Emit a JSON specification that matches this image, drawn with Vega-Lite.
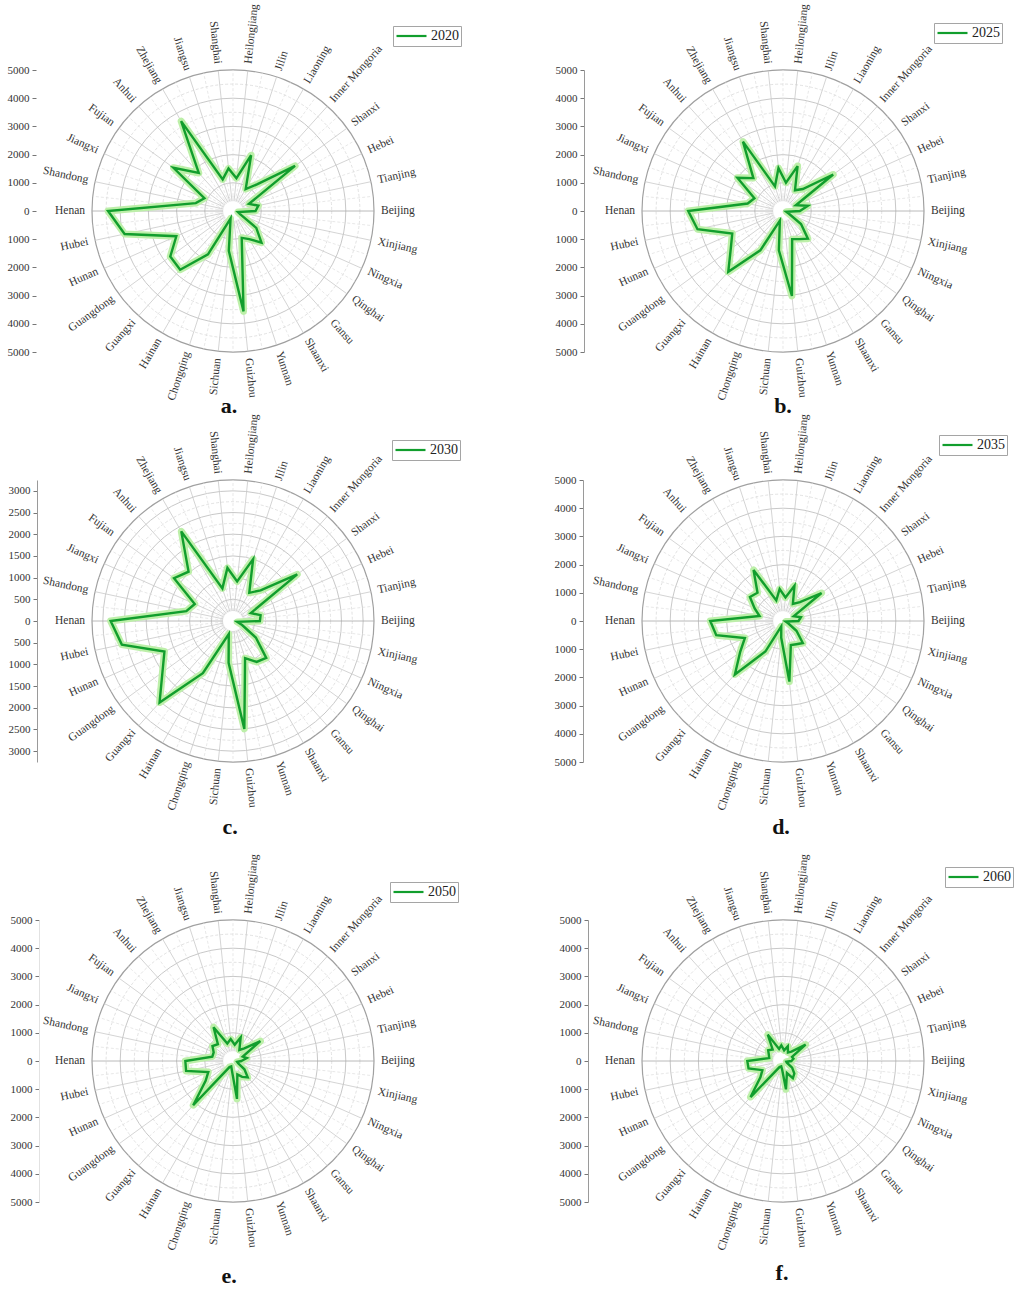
{
"$schema": "https://vega.github.io/schema/vega-lite/v6.json",
"background": "white",
"padding": {"left": 7, "top": 3, "right": 0, "bottom": 0},
"autosize": {"type": "pad"},
"config": {"view": {"stroke": null}, "font": "Liberation Serif"},
"datasets": {
"prov": [{"province":"Beijing"},{"province":"Tianjing"},{"province":"Hebei"},{"province":"Shanxi"},{"province":"Inner Mongoria"},{"province":"Liaoning"},{"province":"Jilin"},{"province":"Heilongjiang"},{"province":"Shanghai"},{"province":"Jiangsu"},{"province":"Zhejiang"},{"province":"Anhui"},{"province":"Fujian"},{"province":"Jiangxi"},{"province":"Shandong"},{"province":"Henan"},{"province":"Hubei"},{"province":"Hunan"},{"province":"Guangdong"},{"province":"Guangxi"},{"province":"Hainan"},{"province":"Chongqing"},{"province":"Sichuan"},{"province":"Guizhou"},{"province":"Yunnan"},{"province":"Shaanxi"},{"province":"Gansu"},{"province":"Qinghai"},{"province":"Ningxia"},{"province":"Xinjiang"}],
"rings5000": [{"r":500,"k":"minor"},{"r":1000,"k":"major"},{"r":1500,"k":"minor"},{"r":2000,"k":"major"},{"r":2500,"k":"minor"},{"r":3000,"k":"major"},{"r":3500,"k":"minor"},{"r":4000,"k":"major"},{"r":4500,"k":"minor"},{"r":5000,"k":"outer"}],
"rings3250": [{"r":250,"k":"minor"},{"r":500,"k":"major"},{"r":750,"k":"minor"},{"r":1000,"k":"major"},{"r":1250,"k":"minor"},{"r":1500,"k":"major"},{"r":1750,"k":"minor"},{"r":2000,"k":"major"},{"r":2250,"k":"minor"},{"r":2500,"k":"major"},{"r":2750,"k":"minor"},{"r":3000,"k":"major"},{"r":3250,"k":"outer"}],
"y2020": [{"province":"Beijing","value":800},{"province":"Tianjing","value":920},{"province":"Hebei","value":620},{"province":"Shanxi","value":2720},{"province":"Inner Mongoria","value":1270},{"province":"Liaoning","value":900},{"province":"Jilin","value":2080},{"province":"Heilongjiang","value":1170},{"province":"Shanghai","value":1520},{"province":"Jiangsu","value":1180},{"province":"Zhejiang","value":3680},{"province":"Anhui","value":1815},{"province":"Fujian","value":2610},{"province":"Jiangxi","value":1110},{"province":"Shandong","value":1350},{"province":"Henan","value":4430},{"province":"Hubei","value":3930},{"province":"Hunan","value":2200},{"province":"Guangdong","value":2750},{"province":"Guangxi","value":2800},{"province":"Hainan","value":1775},{"province":"Chongqing","value":280},{"province":"Sichuan","value":1420},{"province":"Guizhou","value":3580},{"province":"Yunnan","value":1000},{"province":"Shaanxi","value":1150},{"province":"Gansu","value":1510},{"province":"Qinghai","value":1020},{"province":"Ningxia","value":275},{"province":"Xinjiang","value":180}],
"y2025": [{"province":"Beijing","value":600},{"province":"Tianjing","value":900},{"province":"Hebei","value":500},{"province":"Shanxi","value":2200},{"province":"Inner Mongoria","value":1050},{"province":"Liaoning","value":850},{"province":"Jilin","value":1675},{"province":"Heilongjiang","value":1010},{"province":"Shanghai","value":1530},{"province":"Jiangsu","value":920},{"province":"Zhejiang","value":2840},{"province":"Anhui","value":1570},{"province":"Fujian","value":2000},{"province":"Jiangxi","value":1110},{"province":"Shandong","value":1280},{"province":"Henan","value":3360},{"province":"Hubei","value":3100},{"province":"Hunan","value":1970},{"province":"Guangdong","value":2290},{"province":"Guangxi","value":2900},{"province":"Hainan","value":1610},{"province":"Chongqing","value":360},{"province":"Sichuan","value":1400},{"province":"Guizhou","value":3030},{"province":"Yunnan","value":1050},{"province":"Shaanxi","value":1150},{"province":"Gansu","value":1320},{"province":"Qinghai","value":790},{"province":"Ningxia","value":220},{"province":"Xinjiang","value":120}],
"y2030": [{"province":"Beijing","value":620},{"province":"Tianjing","value":650},{"province":"Hebei","value":450},{"province":"Shanxi","value":1830},{"province":"Inner Mongoria","value":950},{"province":"Liaoning","value":750},{"province":"Jilin","value":1500},{"province":"Heilongjiang","value":915},{"province":"Shanghai","value":1230},{"province":"Jiangsu","value":790},{"province":"Zhejiang","value":2385},{"province":"Anhui","value":1530},{"province":"Fujian","value":1680},{"province":"Jiangxi","value":965},{"province":"Shandong","value":1100},{"province":"Henan","value":2820},{"province":"Hubei","value":2620},{"province":"Hunan","value":1730},{"province":"Guangdong","value":2010},{"province":"Guangxi","value":2530},{"province":"Hainan","value":1390},{"province":"Chongqing","value":315},{"province":"Sichuan","value":970},{"province":"Guizhou","value":2500},{"province":"Yunnan","value":900},{"province":"Shaanxi","value":1090},{"province":"Gansu","value":1145},{"province":"Qinghai","value":650},{"province":"Ningxia","value":230},{"province":"Xinjiang","value":100}],
"y2035": [{"province":"Beijing","value":550},{"province":"Tianjing","value":650},{"province":"Hebei","value":420},{"province":"Shanxi","value":1690},{"province":"Inner Mongoria","value":900},{"province":"Liaoning","value":700},{"province":"Jilin","value":1315},{"province":"Heilongjiang","value":840},{"province":"Shanghai","value":1140},{"province":"Jiangsu","value":770},{"province":"Zhejiang","value":2090},{"province":"Anhui","value":1350},{"province":"Fujian","value":1450},{"province":"Jiangxi","value":1100},{"province":"Shandong","value":850},{"province":"Henan","value":2580},{"province":"Hubei","value":2420},{"province":"Hunan","value":1480},{"province":"Guangdong","value":1880},{"province":"Guangxi","value":2550},{"province":"Hainan","value":1250},{"province":"Chongqing","value":200},{"province":"Sichuan","value":600},{"province":"Guizhou","value":2160},{"province":"Yunnan","value":900},{"province":"Shaanxi","value":950},{"province":"Gansu","value":1050},{"province":"Qinghai","value":590},{"province":"Ningxia","value":200},{"province":"Xinjiang","value":100}],
"y2050": [{"province":"Beijing","value":300},{"province":"Tianjing","value":500},{"province":"Hebei","value":380},{"province":"Shanxi","value":1200},{"province":"Inner Mongoria","value":600},{"province":"Liaoning","value":450},{"province":"Jilin","value":880},{"province":"Heilongjiang","value":580},{"province":"Shanghai","value":780},{"province":"Jiangsu","value":650},{"province":"Zhejiang","value":1380},{"province":"Anhui","value":800},{"province":"Fujian","value":900},{"province":"Jiangxi","value":750},{"province":"Shandong","value":750},{"province":"Henan","value":1690},{"province":"Hubei","value":1700},{"province":"Hunan","value":960},{"province":"Guangdong","value":1200},{"province":"Guangxi","value":2110},{"province":"Hainan","value":250},{"province":"Chongqing","value":200},{"province":"Sichuan","value":350},{"province":"Guizhou","value":1350},{"province":"Yunnan","value":500},{"province":"Shaanxi","value":650},{"province":"Gansu","value":780},{"province":"Qinghai","value":500},{"province":"Ningxia","value":200},{"province":"Xinjiang","value":150}],
"y2060": [{"province":"Beijing","value":300},{"province":"Tianjing","value":380},{"province":"Hebei","value":350},{"province":"Shanxi","value":990},{"province":"Inner Mongoria","value":450},{"province":"Liaoning","value":350},{"province":"Jilin","value":550},{"province":"Heilongjiang","value":380},{"province":"Shanghai","value":560},{"province":"Jiangsu","value":450},{"province":"Zhejiang","value":1080},{"province":"Anhui","value":550},{"province":"Fujian","value":650},{"province":"Jiangxi","value":550},{"province":"Shandong","value":500},{"province":"Henan","value":1265},{"province":"Hubei","value":1250},{"province":"Hunan","value":800},{"province":"Guangdong","value":990},{"province":"Guangxi","value":1720},{"province":"Hainan","value":250},{"province":"Chongqing","value":200},{"province":"Sichuan","value":300},{"province":"Guizhou","value":1010},{"province":"Yunnan","value":450},{"province":"Shaanxi","value":700},{"province":"Gansu","value":600},{"province":"Qinghai","value":400},{"province":"Ningxia","value":150},{"province":"Xinjiang","value":120}]
},
"vconcat": [
{"vconcat": [
{"hconcat": [
{"width": 282, "height": 282,
 "title": {"text": "a.", "orient": "bottom", "anchor": "middle", "frame": "group", "offset": -6, "dx": -4, "fontSize": 22, "fontWeight": "bold", "font": "Liberation Serif", "color": "#111"},
 "encoding": {
  "x": {"field": "x", "type": "quantitative", "scale": {"domain": [-5000, 5000], "nice": false, "zero": false}, "axis": null},
  "y": {"field": "y", "type": "quantitative", "scale": {"domain": [-5000, 5000], "nice": false, "zero": false}, "axis": {"title": null, "values": [-5000,-4000,-3000,-2000,-1000,0,1000,2000,3000,4000,5000], "labelExpr": "abs(datum.value)", "offset": 56, "grid": false, "domain": false, "tickSize": 4, "tickColor": "#777", "labelFontSize": 11, "labelColor": "#333", "labelFont": "Liberation Serif", "labelPadding": 3, "labelFlush": false, "labelOverlap": false}}
 },
 "layer": [
  {"data": {"name": "rings5000"}, "transform": [{"filter": "datum.k == 'minor'"}, {"calculate": "0", "as": "x"}, {"calculate": "0", "as": "y"}], "mark": {"type": "point", "shape": "circle", "filled": false, "opacity": 1, "stroke": "#d6d6d6", "strokeWidth": 0.7, "strokeDash": [3,2]}, "encoding": {"size": {"field": "r", "type": "quantitative", "scale": {"type": "pow", "exponent": 2, "domain": [0,5000], "range": [0,79524], "zero": true}, "legend": null}}},
  {"data": {"name": "rings5000"}, "transform": [{"filter": "datum.k == 'major'"}, {"calculate": "0", "as": "x"}, {"calculate": "0", "as": "y"}], "mark": {"type": "point", "shape": "circle", "filled": false, "opacity": 1, "stroke": "#c2c2c2", "strokeWidth": 0.9}, "encoding": {"size": {"field": "r", "type": "quantitative", "scale": {"type": "pow", "exponent": 2, "domain": [0,5000], "range": [0,79524], "zero": true}, "legend": null}}},
  {"data": {"name": "rings5000"}, "transform": [{"filter": "datum.k == 'outer'"}, {"calculate": "0", "as": "x"}, {"calculate": "0", "as": "y"}], "mark": {"type": "point", "shape": "circle", "filled": false, "opacity": 1, "stroke": "#a0a0a0", "strokeWidth": 1.2}, "encoding": {"size": {"field": "r", "type": "quantitative", "scale": {"type": "pow", "exponent": 2, "domain": [0,5000], "range": [0,79524], "zero": true}, "legend": null}}},
  {"data": {"name": "prov"}, "transform": [{"window": [{"op": "row_number", "as": "idx"}]}, {"calculate": "(datum.idx-0.5)*PI/15", "as": "a"}, {"calculate": "350*cos(datum.a)", "as": "x"}, {"calculate": "350*sin(datum.a)", "as": "y"}, {"calculate": "5000*cos(datum.a)", "as": "x2f"}, {"calculate": "5000*sin(datum.a)", "as": "y2f"}], "mark": {"type": "rule", "stroke": "#dedede", "strokeWidth": 0.7, "strokeDash": [3,2]}, "encoding": {"x2": {"field": "x2f"}, "y2": {"field": "y2f"}}},
  {"data": {"name": "prov"}, "transform": [{"window": [{"op": "row_number", "as": "idx"}]}, {"calculate": "(datum.idx-1)*PI/15", "as": "a"}, {"calculate": "350*cos(datum.a)", "as": "x"}, {"calculate": "350*sin(datum.a)", "as": "y"}, {"calculate": "5000*cos(datum.a)", "as": "x2f"}, {"calculate": "5000*sin(datum.a)", "as": "y2f"}, {"calculate": "abs(sin(datum.a)) < 0.01 ? 'axis' : 'spoke'", "as": "kind"}], "mark": {"type": "rule", "strokeWidth": 0.8}, "encoding": {"x2": {"field": "x2f"}, "y2": {"field": "y2f"}, "stroke": {"field": "kind", "type": "nominal", "scale": {"domain": ["axis", "spoke"], "range": ["#a8a8a8", "#c9c9c9"]}, "legend": null}}},
  {"data": {"name": "y2020"}, "transform": [{"window": [{"op": "row_number", "as": "idx"}]}, {"calculate": "(datum.idx-1)*PI/15", "as": "a"}, {"calculate": "datum.value*cos(datum.a)", "as": "x"}, {"calculate": "datum.value*sin(datum.a)", "as": "y"}], "mark": {"type": "line", "interpolate": "linear-closed", "stroke": "#bdefa9", "strokeWidth": 7, "strokeJoin": "round"}, "encoding": {"order": {"field": "idx", "type": "quantitative"}}},
  {"data": {"name": "y2020"}, "transform": [{"window": [{"op": "row_number", "as": "idx"}]}, {"calculate": "(datum.idx-1)*PI/15", "as": "a"}, {"calculate": "datum.value*cos(datum.a)", "as": "x"}, {"calculate": "datum.value*sin(datum.a)", "as": "y"}], "mark": {"type": "line", "interpolate": "linear-closed", "strokeWidth": 2.4}, "encoding": {"order": {"field": "idx", "type": "quantitative"}, "color": {"datum": "2020", "scale": {"range": ["#119e2d"]}, "legend": {"title": null, "orient": "none", "legendX": 301, "legendY": -44, "symbolType": "stroke", "symbolSize": 900, "symbolStrokeWidth": 2.2, "clipHeight": 16, "strokeColor": "#a5a5a5", "fillColor": "#ffffff", "padding": 2, "labelFontSize": 14, "labelFont": "Liberation Serif", "labelColor": "#222", "labelOffset": 3}}}},
  {"data": {"name": "prov"}, "transform": [{"window": [{"op": "row_number", "as": "idx"}]}, {"calculate": "(datum.idx-1)*12", "as": "deg"}, {"calculate": "datum.deg*PI/180", "as": "a"}, {"filter": "cos(datum.a) > 0"}, {"calculate": "5000*cos(datum.a)", "as": "x"}, {"calculate": "5000*sin(datum.a)", "as": "y"}, {"calculate": "-datum.deg", "as": "ang"}], "mark": {"type": "text", "align": "left", "baseline": "middle", "dx": 7, "fontSize": 11.5, "font": "Liberation Serif", "color": "#333"}, "encoding": {"text": {"field": "province"}, "angle": {"field": "ang", "type": "quantitative", "scale": null}}},
  {"data": {"name": "prov"}, "transform": [{"window": [{"op": "row_number", "as": "idx"}]}, {"calculate": "(datum.idx-1)*12", "as": "deg"}, {"calculate": "datum.deg*PI/180", "as": "a"}, {"filter": "cos(datum.a) < 0"}, {"calculate": "5000*cos(datum.a)", "as": "x"}, {"calculate": "5000*sin(datum.a)", "as": "y"}, {"calculate": "180-datum.deg", "as": "ang"}], "mark": {"type": "text", "align": "right", "baseline": "middle", "dx": -7, "fontSize": 11.5, "font": "Liberation Serif", "color": "#333"}, "encoding": {"text": {"field": "province"}, "angle": {"field": "ang", "type": "quantitative", "scale": null}}}
 ]
},
{"width": 282, "height": 282,
 "title": {"text": "b.", "orient": "bottom", "anchor": "middle", "frame": "group", "offset": -6, "dx": 0, "fontSize": 22, "fontWeight": "bold", "font": "Liberation Serif", "color": "#111"},
 "encoding": {
  "x": {"field": "x", "type": "quantitative", "scale": {"domain": [-5000, 5000], "nice": false, "zero": false}, "axis": null},
  "y": {"field": "y", "type": "quantitative", "scale": {"domain": [-5000, 5000], "nice": false, "zero": false}, "axis": {"title": null, "values": [-5000,-4000,-3000,-2000,-1000,0,1000,2000,3000,4000,5000], "labelExpr": "abs(datum.value)", "offset": 58, "grid": false, "domain": true, "domainColor": "#9a9a9a", "tickSize": 4, "tickColor": "#777", "labelFontSize": 11, "labelColor": "#333", "labelFont": "Liberation Serif", "labelPadding": 3, "labelFlush": false, "labelOverlap": false}}
 },
 "layer": [
  {"data": {"name": "rings5000"}, "transform": [{"filter": "datum.k == 'minor'"}, {"calculate": "0", "as": "x"}, {"calculate": "0", "as": "y"}], "mark": {"type": "point", "shape": "circle", "filled": false, "opacity": 1, "stroke": "#d6d6d6", "strokeWidth": 0.7, "strokeDash": [3,2]}, "encoding": {"size": {"field": "r", "type": "quantitative", "scale": {"type": "pow", "exponent": 2, "domain": [0,5000], "range": [0,79524], "zero": true}, "legend": null}}},
  {"data": {"name": "rings5000"}, "transform": [{"filter": "datum.k == 'major'"}, {"calculate": "0", "as": "x"}, {"calculate": "0", "as": "y"}], "mark": {"type": "point", "shape": "circle", "filled": false, "opacity": 1, "stroke": "#c2c2c2", "strokeWidth": 0.9}, "encoding": {"size": {"field": "r", "type": "quantitative", "scale": {"type": "pow", "exponent": 2, "domain": [0,5000], "range": [0,79524], "zero": true}, "legend": null}}},
  {"data": {"name": "rings5000"}, "transform": [{"filter": "datum.k == 'outer'"}, {"calculate": "0", "as": "x"}, {"calculate": "0", "as": "y"}], "mark": {"type": "point", "shape": "circle", "filled": false, "opacity": 1, "stroke": "#a0a0a0", "strokeWidth": 1.2}, "encoding": {"size": {"field": "r", "type": "quantitative", "scale": {"type": "pow", "exponent": 2, "domain": [0,5000], "range": [0,79524], "zero": true}, "legend": null}}},
  {"data": {"name": "prov"}, "transform": [{"window": [{"op": "row_number", "as": "idx"}]}, {"calculate": "(datum.idx-0.5)*PI/15", "as": "a"}, {"calculate": "350*cos(datum.a)", "as": "x"}, {"calculate": "350*sin(datum.a)", "as": "y"}, {"calculate": "5000*cos(datum.a)", "as": "x2f"}, {"calculate": "5000*sin(datum.a)", "as": "y2f"}], "mark": {"type": "rule", "stroke": "#dedede", "strokeWidth": 0.7, "strokeDash": [3,2]}, "encoding": {"x2": {"field": "x2f"}, "y2": {"field": "y2f"}}},
  {"data": {"name": "prov"}, "transform": [{"window": [{"op": "row_number", "as": "idx"}]}, {"calculate": "(datum.idx-1)*PI/15", "as": "a"}, {"calculate": "350*cos(datum.a)", "as": "x"}, {"calculate": "350*sin(datum.a)", "as": "y"}, {"calculate": "5000*cos(datum.a)", "as": "x2f"}, {"calculate": "5000*sin(datum.a)", "as": "y2f"}, {"calculate": "abs(sin(datum.a)) < 0.01 ? 'axis' : 'spoke'", "as": "kind"}], "mark": {"type": "rule", "strokeWidth": 0.8}, "encoding": {"x2": {"field": "x2f"}, "y2": {"field": "y2f"}, "stroke": {"field": "kind", "type": "nominal", "scale": {"domain": ["axis", "spoke"], "range": ["#a8a8a8", "#c9c9c9"]}, "legend": null}}},
  {"data": {"name": "y2025"}, "transform": [{"window": [{"op": "row_number", "as": "idx"}]}, {"calculate": "(datum.idx-1)*PI/15", "as": "a"}, {"calculate": "datum.value*cos(datum.a)", "as": "x"}, {"calculate": "datum.value*sin(datum.a)", "as": "y"}], "mark": {"type": "line", "interpolate": "linear-closed", "stroke": "#bdefa9", "strokeWidth": 7, "strokeJoin": "round"}, "encoding": {"order": {"field": "idx", "type": "quantitative"}}},
  {"data": {"name": "y2025"}, "transform": [{"window": [{"op": "row_number", "as": "idx"}]}, {"calculate": "(datum.idx-1)*PI/15", "as": "a"}, {"calculate": "datum.value*cos(datum.a)", "as": "x"}, {"calculate": "datum.value*sin(datum.a)", "as": "y"}], "mark": {"type": "line", "interpolate": "linear-closed", "strokeWidth": 2.4}, "encoding": {"order": {"field": "idx", "type": "quantitative"}, "color": {"datum": "2025", "scale": {"range": ["#119e2d"]}, "legend": {"title": null, "orient": "none", "legendX": 292, "legendY": -47, "symbolType": "stroke", "symbolSize": 900, "symbolStrokeWidth": 2.2, "clipHeight": 16, "strokeColor": "#a5a5a5", "fillColor": "#ffffff", "padding": 2, "labelFontSize": 14, "labelFont": "Liberation Serif", "labelColor": "#222", "labelOffset": 3}}}},
  {"data": {"name": "prov"}, "transform": [{"window": [{"op": "row_number", "as": "idx"}]}, {"calculate": "(datum.idx-1)*12", "as": "deg"}, {"calculate": "datum.deg*PI/180", "as": "a"}, {"filter": "cos(datum.a) > 0"}, {"calculate": "5000*cos(datum.a)", "as": "x"}, {"calculate": "5000*sin(datum.a)", "as": "y"}, {"calculate": "-datum.deg", "as": "ang"}], "mark": {"type": "text", "align": "left", "baseline": "middle", "dx": 7, "fontSize": 11.5, "font": "Liberation Serif", "color": "#333"}, "encoding": {"text": {"field": "province"}, "angle": {"field": "ang", "type": "quantitative", "scale": null}}},
  {"data": {"name": "prov"}, "transform": [{"window": [{"op": "row_number", "as": "idx"}]}, {"calculate": "(datum.idx-1)*12", "as": "deg"}, {"calculate": "datum.deg*PI/180", "as": "a"}, {"filter": "cos(datum.a) < 0"}, {"calculate": "5000*cos(datum.a)", "as": "x"}, {"calculate": "5000*sin(datum.a)", "as": "y"}, {"calculate": "180-datum.deg", "as": "ang"}], "mark": {"type": "text", "align": "right", "baseline": "middle", "dx": -7, "fontSize": 11.5, "font": "Liberation Serif", "color": "#333"}, "encoding": {"text": {"field": "province"}, "angle": {"field": "ang", "type": "quantitative", "scale": null}}}
 ]
}
], "spacing": 268, "bounds": "flush", "resolve": {"scale": {"x": "independent", "y": "independent", "color": "independent", "size": "independent", "stroke": "independent"}}},
{"hconcat": [
{"width": 282, "height": 282,
 "title": {"text": "c.", "orient": "bottom", "anchor": "middle", "frame": "group", "offset": 5, "dx": -3, "fontSize": 22, "fontWeight": "bold", "font": "Liberation Serif", "color": "#111"},
 "encoding": {
  "x": {"field": "x", "type": "quantitative", "scale": {"domain": [-3250, 3250], "nice": false, "zero": false}, "axis": null},
  "y": {"field": "y", "type": "quantitative", "scale": {"domain": [-3250, 3250], "nice": false, "zero": false}, "axis": {"title": null, "values": [-3000,-2500,-2000,-1500,-1000,-500,0,500,1000,1500,2000,2500,3000], "labelExpr": "abs(datum.value)", "offset": 55, "grid": false, "domain": true, "domainColor": "#9a9a9a", "tickSize": 4, "tickColor": "#777", "labelFontSize": 11, "labelColor": "#333", "labelFont": "Liberation Serif", "labelPadding": 3, "labelFlush": false, "labelOverlap": false}}
 },
 "layer": [
  {"data": {"name": "rings3250"}, "transform": [{"filter": "datum.k == 'minor'"}, {"calculate": "0", "as": "x"}, {"calculate": "0", "as": "y"}], "mark": {"type": "point", "shape": "circle", "filled": false, "opacity": 1, "stroke": "#d6d6d6", "strokeWidth": 0.7, "strokeDash": [3,2]}, "encoding": {"size": {"field": "r", "type": "quantitative", "scale": {"type": "pow", "exponent": 2, "domain": [0,3250], "range": [0,79524], "zero": true}, "legend": null}}},
  {"data": {"name": "rings3250"}, "transform": [{"filter": "datum.k == 'major'"}, {"calculate": "0", "as": "x"}, {"calculate": "0", "as": "y"}], "mark": {"type": "point", "shape": "circle", "filled": false, "opacity": 1, "stroke": "#c2c2c2", "strokeWidth": 0.9}, "encoding": {"size": {"field": "r", "type": "quantitative", "scale": {"type": "pow", "exponent": 2, "domain": [0,3250], "range": [0,79524], "zero": true}, "legend": null}}},
  {"data": {"name": "rings3250"}, "transform": [{"filter": "datum.k == 'outer'"}, {"calculate": "0", "as": "x"}, {"calculate": "0", "as": "y"}], "mark": {"type": "point", "shape": "circle", "filled": false, "opacity": 1, "stroke": "#a0a0a0", "strokeWidth": 1.2}, "encoding": {"size": {"field": "r", "type": "quantitative", "scale": {"type": "pow", "exponent": 2, "domain": [0,3250], "range": [0,79524], "zero": true}, "legend": null}}},
  {"data": {"name": "prov"}, "transform": [{"window": [{"op": "row_number", "as": "idx"}]}, {"calculate": "(datum.idx-0.5)*PI/15", "as": "a"}, {"calculate": "230*cos(datum.a)", "as": "x"}, {"calculate": "230*sin(datum.a)", "as": "y"}, {"calculate": "3250*cos(datum.a)", "as": "x2f"}, {"calculate": "3250*sin(datum.a)", "as": "y2f"}], "mark": {"type": "rule", "stroke": "#dedede", "strokeWidth": 0.7, "strokeDash": [3,2]}, "encoding": {"x2": {"field": "x2f"}, "y2": {"field": "y2f"}}},
  {"data": {"name": "prov"}, "transform": [{"window": [{"op": "row_number", "as": "idx"}]}, {"calculate": "(datum.idx-1)*PI/15", "as": "a"}, {"calculate": "230*cos(datum.a)", "as": "x"}, {"calculate": "230*sin(datum.a)", "as": "y"}, {"calculate": "3250*cos(datum.a)", "as": "x2f"}, {"calculate": "3250*sin(datum.a)", "as": "y2f"}, {"calculate": "abs(sin(datum.a)) < 0.01 ? 'axis' : 'spoke'", "as": "kind"}], "mark": {"type": "rule", "strokeWidth": 0.8}, "encoding": {"x2": {"field": "x2f"}, "y2": {"field": "y2f"}, "stroke": {"field": "kind", "type": "nominal", "scale": {"domain": ["axis", "spoke"], "range": ["#a8a8a8", "#c9c9c9"]}, "legend": null}}},
  {"data": {"name": "y2030"}, "transform": [{"window": [{"op": "row_number", "as": "idx"}]}, {"calculate": "(datum.idx-1)*PI/15", "as": "a"}, {"calculate": "datum.value*cos(datum.a)", "as": "x"}, {"calculate": "datum.value*sin(datum.a)", "as": "y"}], "mark": {"type": "line", "interpolate": "linear-closed", "stroke": "#bdefa9", "strokeWidth": 7, "strokeJoin": "round"}, "encoding": {"order": {"field": "idx", "type": "quantitative"}}},
  {"data": {"name": "y2030"}, "transform": [{"window": [{"op": "row_number", "as": "idx"}]}, {"calculate": "(datum.idx-1)*PI/15", "as": "a"}, {"calculate": "datum.value*cos(datum.a)", "as": "x"}, {"calculate": "datum.value*sin(datum.a)", "as": "y"}], "mark": {"type": "line", "interpolate": "linear-closed", "strokeWidth": 2.4}, "encoding": {"order": {"field": "idx", "type": "quantitative"}, "color": {"datum": "2030", "scale": {"range": ["#119e2d"]}, "legend": {"title": null, "orient": "none", "legendX": 300, "legendY": -40, "symbolType": "stroke", "symbolSize": 900, "symbolStrokeWidth": 2.2, "clipHeight": 16, "strokeColor": "#a5a5a5", "fillColor": "#ffffff", "padding": 2, "labelFontSize": 14, "labelFont": "Liberation Serif", "labelColor": "#222", "labelOffset": 3}}}},
  {"data": {"name": "prov"}, "transform": [{"window": [{"op": "row_number", "as": "idx"}]}, {"calculate": "(datum.idx-1)*12", "as": "deg"}, {"calculate": "datum.deg*PI/180", "as": "a"}, {"filter": "cos(datum.a) > 0"}, {"calculate": "3250*cos(datum.a)", "as": "x"}, {"calculate": "3250*sin(datum.a)", "as": "y"}, {"calculate": "-datum.deg", "as": "ang"}], "mark": {"type": "text", "align": "left", "baseline": "middle", "dx": 7, "fontSize": 11.5, "font": "Liberation Serif", "color": "#333"}, "encoding": {"text": {"field": "province"}, "angle": {"field": "ang", "type": "quantitative", "scale": null}}},
  {"data": {"name": "prov"}, "transform": [{"window": [{"op": "row_number", "as": "idx"}]}, {"calculate": "(datum.idx-1)*12", "as": "deg"}, {"calculate": "datum.deg*PI/180", "as": "a"}, {"filter": "cos(datum.a) < 0"}, {"calculate": "3250*cos(datum.a)", "as": "x"}, {"calculate": "3250*sin(datum.a)", "as": "y"}, {"calculate": "180-datum.deg", "as": "ang"}], "mark": {"type": "text", "align": "right", "baseline": "middle", "dx": -7, "fontSize": 11.5, "font": "Liberation Serif", "color": "#333"}, "encoding": {"text": {"field": "province"}, "angle": {"field": "ang", "type": "quantitative", "scale": null}}}
 ]
},
{"width": 282, "height": 282,
 "title": {"text": "d.", "orient": "bottom", "anchor": "middle", "frame": "group", "offset": 5, "dx": -2, "fontSize": 22, "fontWeight": "bold", "font": "Liberation Serif", "color": "#111"},
 "encoding": {
  "x": {"field": "x", "type": "quantitative", "scale": {"domain": [-5000, 5000], "nice": false, "zero": false}, "axis": null},
  "y": {"field": "y", "type": "quantitative", "scale": {"domain": [-5000, 5000], "nice": false, "zero": false}, "axis": {"title": null, "values": [-5000,-4000,-3000,-2000,-1000,0,1000,2000,3000,4000,5000], "labelExpr": "abs(datum.value)", "offset": 59, "grid": false, "domain": true, "domainColor": "#9a9a9a", "tickSize": 4, "tickColor": "#777", "labelFontSize": 11, "labelColor": "#333", "labelFont": "Liberation Serif", "labelPadding": 3, "labelFlush": false, "labelOverlap": false}}
 },
 "layer": [
  {"data": {"name": "rings5000"}, "transform": [{"filter": "datum.k == 'minor'"}, {"calculate": "0", "as": "x"}, {"calculate": "0", "as": "y"}], "mark": {"type": "point", "shape": "circle", "filled": false, "opacity": 1, "stroke": "#d6d6d6", "strokeWidth": 0.7, "strokeDash": [3,2]}, "encoding": {"size": {"field": "r", "type": "quantitative", "scale": {"type": "pow", "exponent": 2, "domain": [0,5000], "range": [0,79524], "zero": true}, "legend": null}}},
  {"data": {"name": "rings5000"}, "transform": [{"filter": "datum.k == 'major'"}, {"calculate": "0", "as": "x"}, {"calculate": "0", "as": "y"}], "mark": {"type": "point", "shape": "circle", "filled": false, "opacity": 1, "stroke": "#c2c2c2", "strokeWidth": 0.9}, "encoding": {"size": {"field": "r", "type": "quantitative", "scale": {"type": "pow", "exponent": 2, "domain": [0,5000], "range": [0,79524], "zero": true}, "legend": null}}},
  {"data": {"name": "rings5000"}, "transform": [{"filter": "datum.k == 'outer'"}, {"calculate": "0", "as": "x"}, {"calculate": "0", "as": "y"}], "mark": {"type": "point", "shape": "circle", "filled": false, "opacity": 1, "stroke": "#a0a0a0", "strokeWidth": 1.2}, "encoding": {"size": {"field": "r", "type": "quantitative", "scale": {"type": "pow", "exponent": 2, "domain": [0,5000], "range": [0,79524], "zero": true}, "legend": null}}},
  {"data": {"name": "prov"}, "transform": [{"window": [{"op": "row_number", "as": "idx"}]}, {"calculate": "(datum.idx-0.5)*PI/15", "as": "a"}, {"calculate": "350*cos(datum.a)", "as": "x"}, {"calculate": "350*sin(datum.a)", "as": "y"}, {"calculate": "5000*cos(datum.a)", "as": "x2f"}, {"calculate": "5000*sin(datum.a)", "as": "y2f"}], "mark": {"type": "rule", "stroke": "#dedede", "strokeWidth": 0.7, "strokeDash": [3,2]}, "encoding": {"x2": {"field": "x2f"}, "y2": {"field": "y2f"}}},
  {"data": {"name": "prov"}, "transform": [{"window": [{"op": "row_number", "as": "idx"}]}, {"calculate": "(datum.idx-1)*PI/15", "as": "a"}, {"calculate": "350*cos(datum.a)", "as": "x"}, {"calculate": "350*sin(datum.a)", "as": "y"}, {"calculate": "5000*cos(datum.a)", "as": "x2f"}, {"calculate": "5000*sin(datum.a)", "as": "y2f"}, {"calculate": "abs(sin(datum.a)) < 0.01 ? 'axis' : 'spoke'", "as": "kind"}], "mark": {"type": "rule", "strokeWidth": 0.8}, "encoding": {"x2": {"field": "x2f"}, "y2": {"field": "y2f"}, "stroke": {"field": "kind", "type": "nominal", "scale": {"domain": ["axis", "spoke"], "range": ["#a8a8a8", "#c9c9c9"]}, "legend": null}}},
  {"data": {"name": "y2035"}, "transform": [{"window": [{"op": "row_number", "as": "idx"}]}, {"calculate": "(datum.idx-1)*PI/15", "as": "a"}, {"calculate": "datum.value*cos(datum.a)", "as": "x"}, {"calculate": "datum.value*sin(datum.a)", "as": "y"}], "mark": {"type": "line", "interpolate": "linear-closed", "stroke": "#bdefa9", "strokeWidth": 7, "strokeJoin": "round"}, "encoding": {"order": {"field": "idx", "type": "quantitative"}}},
  {"data": {"name": "y2035"}, "transform": [{"window": [{"op": "row_number", "as": "idx"}]}, {"calculate": "(datum.idx-1)*PI/15", "as": "a"}, {"calculate": "datum.value*cos(datum.a)", "as": "x"}, {"calculate": "datum.value*sin(datum.a)", "as": "y"}], "mark": {"type": "line", "interpolate": "linear-closed", "strokeWidth": 2.4}, "encoding": {"order": {"field": "idx", "type": "quantitative"}, "color": {"datum": "2035", "scale": {"range": ["#119e2d"]}, "legend": {"title": null, "orient": "none", "legendX": 297, "legendY": -45, "symbolType": "stroke", "symbolSize": 900, "symbolStrokeWidth": 2.2, "clipHeight": 16, "strokeColor": "#a5a5a5", "fillColor": "#ffffff", "padding": 2, "labelFontSize": 14, "labelFont": "Liberation Serif", "labelColor": "#222", "labelOffset": 3}}}},
  {"data": {"name": "prov"}, "transform": [{"window": [{"op": "row_number", "as": "idx"}]}, {"calculate": "(datum.idx-1)*12", "as": "deg"}, {"calculate": "datum.deg*PI/180", "as": "a"}, {"filter": "cos(datum.a) > 0"}, {"calculate": "5000*cos(datum.a)", "as": "x"}, {"calculate": "5000*sin(datum.a)", "as": "y"}, {"calculate": "-datum.deg", "as": "ang"}], "mark": {"type": "text", "align": "left", "baseline": "middle", "dx": 7, "fontSize": 11.5, "font": "Liberation Serif", "color": "#333"}, "encoding": {"text": {"field": "province"}, "angle": {"field": "ang", "type": "quantitative", "scale": null}}},
  {"data": {"name": "prov"}, "transform": [{"window": [{"op": "row_number", "as": "idx"}]}, {"calculate": "(datum.idx-1)*12", "as": "deg"}, {"calculate": "datum.deg*PI/180", "as": "a"}, {"filter": "cos(datum.a) < 0"}, {"calculate": "5000*cos(datum.a)", "as": "x"}, {"calculate": "5000*sin(datum.a)", "as": "y"}, {"calculate": "180-datum.deg", "as": "ang"}], "mark": {"type": "text", "align": "right", "baseline": "middle", "dx": -7, "fontSize": 11.5, "font": "Liberation Serif", "color": "#333"}, "encoding": {"text": {"field": "province"}, "angle": {"field": "ang", "type": "quantitative", "scale": null}}}
 ]
}
], "spacing": 268, "bounds": "flush", "resolve": {"scale": {"x": "independent", "y": "independent", "color": "independent", "size": "independent", "stroke": "independent"}}}
], "spacing": 410, "bounds": "flush", "resolve": {"scale": {"x": "independent", "y": "independent", "color": "independent", "size": "independent", "stroke": "independent"}}},
{"hconcat": [
{"width": 282, "height": 282,
 "title": {"text": "e.", "orient": "bottom", "anchor": "middle", "frame": "group", "offset": 14, "dx": -4, "fontSize": 22, "fontWeight": "bold", "font": "Liberation Serif", "color": "#111"},
 "encoding": {
  "x": {"field": "x", "type": "quantitative", "scale": {"domain": [-5000, 5000], "nice": false, "zero": false}, "axis": null},
  "y": {"field": "y", "type": "quantitative", "scale": {"domain": [-5000, 5000], "nice": false, "zero": false}, "axis": {"title": null, "values": [-5000,-4000,-3000,-2000,-1000,0,1000,2000,3000,4000,5000], "labelExpr": "abs(datum.value)", "offset": 53, "grid": false, "domain": true, "domainColor": "#e2e2e2", "tickSize": 4, "tickColor": "#777", "labelFontSize": 11, "labelColor": "#333", "labelFont": "Liberation Serif", "labelPadding": 3, "labelFlush": false, "labelOverlap": false}}
 },
 "layer": [
  {"data": {"name": "rings5000"}, "transform": [{"filter": "datum.k == 'minor'"}, {"calculate": "0", "as": "x"}, {"calculate": "0", "as": "y"}], "mark": {"type": "point", "shape": "circle", "filled": false, "opacity": 1, "stroke": "#d6d6d6", "strokeWidth": 0.7, "strokeDash": [3,2]}, "encoding": {"size": {"field": "r", "type": "quantitative", "scale": {"type": "pow", "exponent": 2, "domain": [0,5000], "range": [0,79524], "zero": true}, "legend": null}}},
  {"data": {"name": "rings5000"}, "transform": [{"filter": "datum.k == 'major'"}, {"calculate": "0", "as": "x"}, {"calculate": "0", "as": "y"}], "mark": {"type": "point", "shape": "circle", "filled": false, "opacity": 1, "stroke": "#c2c2c2", "strokeWidth": 0.9}, "encoding": {"size": {"field": "r", "type": "quantitative", "scale": {"type": "pow", "exponent": 2, "domain": [0,5000], "range": [0,79524], "zero": true}, "legend": null}}},
  {"data": {"name": "rings5000"}, "transform": [{"filter": "datum.k == 'outer'"}, {"calculate": "0", "as": "x"}, {"calculate": "0", "as": "y"}], "mark": {"type": "point", "shape": "circle", "filled": false, "opacity": 1, "stroke": "#a0a0a0", "strokeWidth": 1.2}, "encoding": {"size": {"field": "r", "type": "quantitative", "scale": {"type": "pow", "exponent": 2, "domain": [0,5000], "range": [0,79524], "zero": true}, "legend": null}}},
  {"data": {"name": "prov"}, "transform": [{"window": [{"op": "row_number", "as": "idx"}]}, {"calculate": "(datum.idx-0.5)*PI/15", "as": "a"}, {"calculate": "350*cos(datum.a)", "as": "x"}, {"calculate": "350*sin(datum.a)", "as": "y"}, {"calculate": "5000*cos(datum.a)", "as": "x2f"}, {"calculate": "5000*sin(datum.a)", "as": "y2f"}], "mark": {"type": "rule", "stroke": "#dedede", "strokeWidth": 0.7, "strokeDash": [3,2]}, "encoding": {"x2": {"field": "x2f"}, "y2": {"field": "y2f"}}},
  {"data": {"name": "prov"}, "transform": [{"window": [{"op": "row_number", "as": "idx"}]}, {"calculate": "(datum.idx-1)*PI/15", "as": "a"}, {"calculate": "350*cos(datum.a)", "as": "x"}, {"calculate": "350*sin(datum.a)", "as": "y"}, {"calculate": "5000*cos(datum.a)", "as": "x2f"}, {"calculate": "5000*sin(datum.a)", "as": "y2f"}, {"calculate": "abs(sin(datum.a)) < 0.01 ? 'axis' : 'spoke'", "as": "kind"}], "mark": {"type": "rule", "strokeWidth": 0.8}, "encoding": {"x2": {"field": "x2f"}, "y2": {"field": "y2f"}, "stroke": {"field": "kind", "type": "nominal", "scale": {"domain": ["axis", "spoke"], "range": ["#a8a8a8", "#c9c9c9"]}, "legend": null}}},
  {"data": {"name": "y2050"}, "transform": [{"window": [{"op": "row_number", "as": "idx"}]}, {"calculate": "(datum.idx-1)*PI/15", "as": "a"}, {"calculate": "datum.value*cos(datum.a)", "as": "x"}, {"calculate": "datum.value*sin(datum.a)", "as": "y"}], "mark": {"type": "line", "interpolate": "linear-closed", "stroke": "#bdefa9", "strokeWidth": 7, "strokeJoin": "round"}, "encoding": {"order": {"field": "idx", "type": "quantitative"}}},
  {"data": {"name": "y2050"}, "transform": [{"window": [{"op": "row_number", "as": "idx"}]}, {"calculate": "(datum.idx-1)*PI/15", "as": "a"}, {"calculate": "datum.value*cos(datum.a)", "as": "x"}, {"calculate": "datum.value*sin(datum.a)", "as": "y"}], "mark": {"type": "line", "interpolate": "linear-closed", "strokeWidth": 2.4}, "encoding": {"order": {"field": "idx", "type": "quantitative"}, "color": {"datum": "2050", "scale": {"range": ["#119e2d"]}, "legend": {"title": null, "orient": "none", "legendX": 298, "legendY": -38, "symbolType": "stroke", "symbolSize": 900, "symbolStrokeWidth": 2.2, "clipHeight": 16, "strokeColor": "#a5a5a5", "fillColor": "#ffffff", "padding": 2, "labelFontSize": 14, "labelFont": "Liberation Serif", "labelColor": "#222", "labelOffset": 3}}}},
  {"data": {"name": "prov"}, "transform": [{"window": [{"op": "row_number", "as": "idx"}]}, {"calculate": "(datum.idx-1)*12", "as": "deg"}, {"calculate": "datum.deg*PI/180", "as": "a"}, {"filter": "cos(datum.a) > 0"}, {"calculate": "5000*cos(datum.a)", "as": "x"}, {"calculate": "5000*sin(datum.a)", "as": "y"}, {"calculate": "-datum.deg", "as": "ang"}], "mark": {"type": "text", "align": "left", "baseline": "middle", "dx": 7, "fontSize": 11.5, "font": "Liberation Serif", "color": "#333"}, "encoding": {"text": {"field": "province"}, "angle": {"field": "ang", "type": "quantitative", "scale": null}}},
  {"data": {"name": "prov"}, "transform": [{"window": [{"op": "row_number", "as": "idx"}]}, {"calculate": "(datum.idx-1)*12", "as": "deg"}, {"calculate": "datum.deg*PI/180", "as": "a"}, {"filter": "cos(datum.a) < 0"}, {"calculate": "5000*cos(datum.a)", "as": "x"}, {"calculate": "5000*sin(datum.a)", "as": "y"}, {"calculate": "180-datum.deg", "as": "ang"}], "mark": {"type": "text", "align": "right", "baseline": "middle", "dx": -7, "fontSize": 11.5, "font": "Liberation Serif", "color": "#333"}, "encoding": {"text": {"field": "province"}, "angle": {"field": "ang", "type": "quantitative", "scale": null}}}
 ]
},
{"width": 282, "height": 282,
 "title": {"text": "f.", "orient": "bottom", "anchor": "middle", "frame": "group", "offset": 11, "dx": -1, "fontSize": 22, "fontWeight": "bold", "font": "Liberation Serif", "color": "#111"},
 "encoding": {
  "x": {"field": "x", "type": "quantitative", "scale": {"domain": [-5000, 5000], "nice": false, "zero": false}, "axis": null},
  "y": {"field": "y", "type": "quantitative", "scale": {"domain": [-5000, 5000], "nice": false, "zero": false}, "axis": {"title": null, "values": [-5000,-4000,-3000,-2000,-1000,0,1000,2000,3000,4000,5000], "labelExpr": "abs(datum.value)", "offset": 54, "grid": false, "domain": true, "domainColor": "#9a9a9a", "tickSize": 4, "tickColor": "#777", "labelFontSize": 11, "labelColor": "#333", "labelFont": "Liberation Serif", "labelPadding": 3, "labelFlush": false, "labelOverlap": false}}
 },
 "layer": [
  {"data": {"name": "rings5000"}, "transform": [{"filter": "datum.k == 'minor'"}, {"calculate": "0", "as": "x"}, {"calculate": "0", "as": "y"}], "mark": {"type": "point", "shape": "circle", "filled": false, "opacity": 1, "stroke": "#d6d6d6", "strokeWidth": 0.7, "strokeDash": [3,2]}, "encoding": {"size": {"field": "r", "type": "quantitative", "scale": {"type": "pow", "exponent": 2, "domain": [0,5000], "range": [0,79524], "zero": true}, "legend": null}}},
  {"data": {"name": "rings5000"}, "transform": [{"filter": "datum.k == 'major'"}, {"calculate": "0", "as": "x"}, {"calculate": "0", "as": "y"}], "mark": {"type": "point", "shape": "circle", "filled": false, "opacity": 1, "stroke": "#c2c2c2", "strokeWidth": 0.9}, "encoding": {"size": {"field": "r", "type": "quantitative", "scale": {"type": "pow", "exponent": 2, "domain": [0,5000], "range": [0,79524], "zero": true}, "legend": null}}},
  {"data": {"name": "rings5000"}, "transform": [{"filter": "datum.k == 'outer'"}, {"calculate": "0", "as": "x"}, {"calculate": "0", "as": "y"}], "mark": {"type": "point", "shape": "circle", "filled": false, "opacity": 1, "stroke": "#a0a0a0", "strokeWidth": 1.2}, "encoding": {"size": {"field": "r", "type": "quantitative", "scale": {"type": "pow", "exponent": 2, "domain": [0,5000], "range": [0,79524], "zero": true}, "legend": null}}},
  {"data": {"name": "prov"}, "transform": [{"window": [{"op": "row_number", "as": "idx"}]}, {"calculate": "(datum.idx-0.5)*PI/15", "as": "a"}, {"calculate": "350*cos(datum.a)", "as": "x"}, {"calculate": "350*sin(datum.a)", "as": "y"}, {"calculate": "5000*cos(datum.a)", "as": "x2f"}, {"calculate": "5000*sin(datum.a)", "as": "y2f"}], "mark": {"type": "rule", "stroke": "#dedede", "strokeWidth": 0.7, "strokeDash": [3,2]}, "encoding": {"x2": {"field": "x2f"}, "y2": {"field": "y2f"}}},
  {"data": {"name": "prov"}, "transform": [{"window": [{"op": "row_number", "as": "idx"}]}, {"calculate": "(datum.idx-1)*PI/15", "as": "a"}, {"calculate": "350*cos(datum.a)", "as": "x"}, {"calculate": "350*sin(datum.a)", "as": "y"}, {"calculate": "5000*cos(datum.a)", "as": "x2f"}, {"calculate": "5000*sin(datum.a)", "as": "y2f"}, {"calculate": "abs(sin(datum.a)) < 0.01 ? 'axis' : 'spoke'", "as": "kind"}], "mark": {"type": "rule", "strokeWidth": 0.8}, "encoding": {"x2": {"field": "x2f"}, "y2": {"field": "y2f"}, "stroke": {"field": "kind", "type": "nominal", "scale": {"domain": ["axis", "spoke"], "range": ["#a8a8a8", "#c9c9c9"]}, "legend": null}}},
  {"data": {"name": "y2060"}, "transform": [{"window": [{"op": "row_number", "as": "idx"}]}, {"calculate": "(datum.idx-1)*PI/15", "as": "a"}, {"calculate": "datum.value*cos(datum.a)", "as": "x"}, {"calculate": "datum.value*sin(datum.a)", "as": "y"}], "mark": {"type": "line", "interpolate": "linear-closed", "stroke": "#bdefa9", "strokeWidth": 7, "strokeJoin": "round"}, "encoding": {"order": {"field": "idx", "type": "quantitative"}}},
  {"data": {"name": "y2060"}, "transform": [{"window": [{"op": "row_number", "as": "idx"}]}, {"calculate": "(datum.idx-1)*PI/15", "as": "a"}, {"calculate": "datum.value*cos(datum.a)", "as": "x"}, {"calculate": "datum.value*sin(datum.a)", "as": "y"}], "mark": {"type": "line", "interpolate": "linear-closed", "strokeWidth": 2.4}, "encoding": {"order": {"field": "idx", "type": "quantitative"}, "color": {"datum": "2060", "scale": {"range": ["#119e2d"]}, "legend": {"title": null, "orient": "none", "legendX": 303, "legendY": -53, "symbolType": "stroke", "symbolSize": 900, "symbolStrokeWidth": 2.2, "clipHeight": 16, "strokeColor": "#a5a5a5", "fillColor": "#ffffff", "padding": 2, "labelFontSize": 14, "labelFont": "Liberation Serif", "labelColor": "#222", "labelOffset": 3}}}},
  {"data": {"name": "prov"}, "transform": [{"window": [{"op": "row_number", "as": "idx"}]}, {"calculate": "(datum.idx-1)*12", "as": "deg"}, {"calculate": "datum.deg*PI/180", "as": "a"}, {"filter": "cos(datum.a) > 0"}, {"calculate": "5000*cos(datum.a)", "as": "x"}, {"calculate": "5000*sin(datum.a)", "as": "y"}, {"calculate": "-datum.deg", "as": "ang"}], "mark": {"type": "text", "align": "left", "baseline": "middle", "dx": 7, "fontSize": 11.5, "font": "Liberation Serif", "color": "#333"}, "encoding": {"text": {"field": "province"}, "angle": {"field": "ang", "type": "quantitative", "scale": null}}},
  {"data": {"name": "prov"}, "transform": [{"window": [{"op": "row_number", "as": "idx"}]}, {"calculate": "(datum.idx-1)*12", "as": "deg"}, {"calculate": "datum.deg*PI/180", "as": "a"}, {"filter": "cos(datum.a) < 0"}, {"calculate": "5000*cos(datum.a)", "as": "x"}, {"calculate": "5000*sin(datum.a)", "as": "y"}, {"calculate": "180-datum.deg", "as": "ang"}], "mark": {"type": "text", "align": "right", "baseline": "middle", "dx": -7, "fontSize": 11.5, "font": "Liberation Serif", "color": "#333"}, "encoding": {"text": {"field": "province"}, "angle": {"field": "ang", "type": "quantitative", "scale": null}}}
 ]
}
], "spacing": 268, "bounds": "flush", "resolve": {"scale": {"x": "independent", "y": "independent", "color": "independent", "size": "independent", "stroke": "independent"}}}
],
"spacing": 850, "bounds": "flush", "resolve": {"scale": {"x": "independent", "y": "independent", "color": "independent", "size": "independent", "stroke": "independent"}}
}
